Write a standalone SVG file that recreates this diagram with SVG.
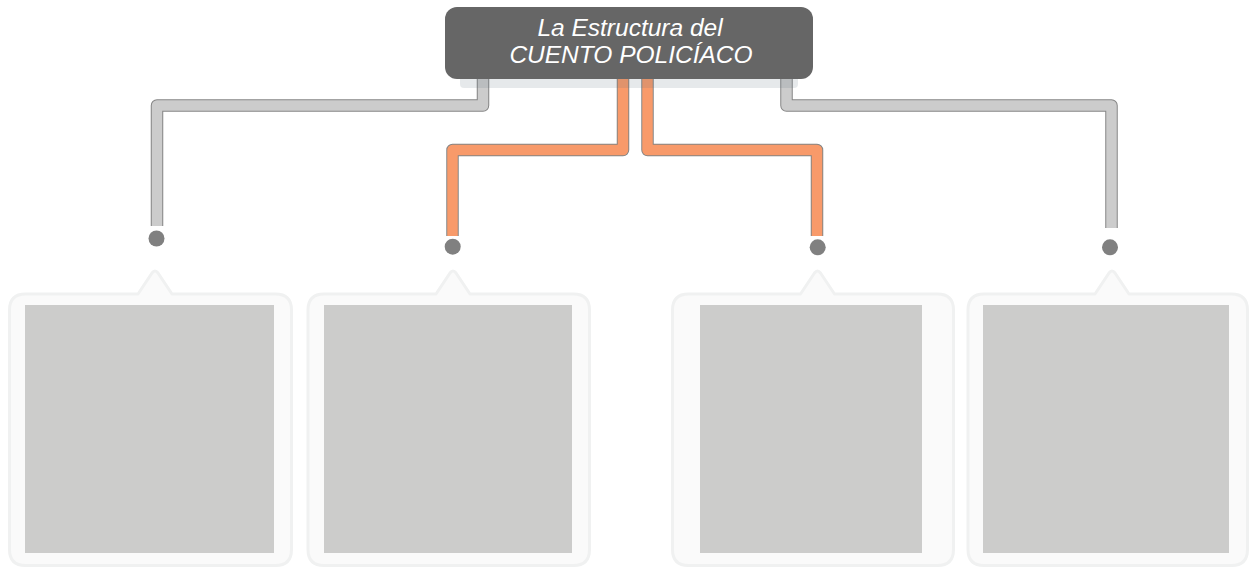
<svg xmlns="http://www.w3.org/2000/svg" width="1251" height="569" viewBox="0 0 1251 569">
<style>
.pipe-out{fill:none;stroke:#858585;stroke-width:12.5;stroke-linejoin:round}
.pipe-gray{fill:none;stroke:#cccccc;stroke-width:10.5;stroke-linejoin:round}
.pipe-orange{fill:none;stroke:#f89a6a;stroke-width:10.5;stroke-linejoin:round}
.dot{fill:#808080}
.callout{fill:#fafafa;stroke:#f0f1f1;stroke-width:3;stroke-linejoin:round}
.inner{fill:#cccccb}
.title{font-family:"Liberation Sans",Arial,sans-serif;font-style:italic;font-size:24.5px;fill:#ffffff;text-anchor:middle}
</style>
<rect width="1251" height="569" fill="#ffffff"/>
<g id="connectors">
<path class="pipe-out" d="M483,76 V105.5 H157 V226"/>
<path class="pipe-gray" d="M483,76 V105.5 H157 V226"/>
<path class="pipe-out" d="M786.5,76 V105.5 H1111.5 V228"/>
<path class="pipe-gray" d="M786.5,76 V105.5 H1111.5 V228"/>
<path class="pipe-out" d="M623,76 V150 H452.5 V236"/>
<path class="pipe-orange" d="M623,76 V150 H452.5 V236"/>
<path class="pipe-out" d="M647.5,76 V150 H817 V236"/>
<path class="pipe-orange" d="M647.5,76 V150 H817 V236"/>
<circle class="dot" cx="156.5" cy="238.5" r="8"/>
<circle class="dot" cx="452.7" cy="246.7" r="8"/>
<circle class="dot" cx="817.7" cy="247.3" r="8"/>
<circle class="dot" cx="1110" cy="247.3" r="8"/>
</g>
<g id="title">
<rect x="460" y="70" width="338" height="18" rx="4" fill="#5a6a7a" fill-opacity="0.15"/>
<rect x="445" y="7" width="368" height="72" rx="12" fill="#666666"/>
<text class="title" x="630" y="36">La Estructura del</text>
<text class="title" x="631" y="63">CUENTO POLICÍACO</text>
</g>
<g id="box1">
<path class="callout" d="M25.5,294 H138 L152,273 Q155,269 158,273 L172,294 H275.5 Q291.5,294 291.5,310 V549.5 Q291.5,565.5 275.5,565.5 H25.5 Q9.5,565.5 9.5,549.5 V310 Q9.5,294 25.5,294 Z"/>
<rect class="inner" x="25" y="305" width="249" height="248"/>
</g>
<g id="box2">
<path class="callout" d="M324,294 H436 L450,273 Q453,269 456,273 L470,294 H573.5 Q589.5,294 589.5,310 V549.5 Q589.5,565.5 573.5,565.5 H324 Q308,565.5 308,549.5 V310 Q308,294 324,294 Z"/>
<rect class="inner" x="324" y="305" width="248" height="248"/>
</g>
<g id="box3">
<path class="callout" d="M688.5,294 H800.5 L814.5,273 Q817.5,269 820.5,273 L834.5,294 H937.5 Q953.5,294 953.5,310 V549.5 Q953.5,565.5 937.5,565.5 H688.5 Q672.5,565.5 672.5,549.5 V310 Q672.5,294 688.5,294 Z"/>
<rect class="inner" x="700" y="305" width="222" height="248"/>
</g>
<g id="box4">
<path class="callout" d="M984,294 H1095 L1109,273 Q1112,269 1115,273 L1129,294 H1231.5 Q1247.5,294 1247.5,310 V549.5 Q1247.5,565.5 1231.5,565.5 H984 Q968,565.5 968,549.5 V310 Q968,294 984,294 Z"/>
<rect class="inner" x="983" y="305" width="246" height="248"/>
</g>
</svg>
